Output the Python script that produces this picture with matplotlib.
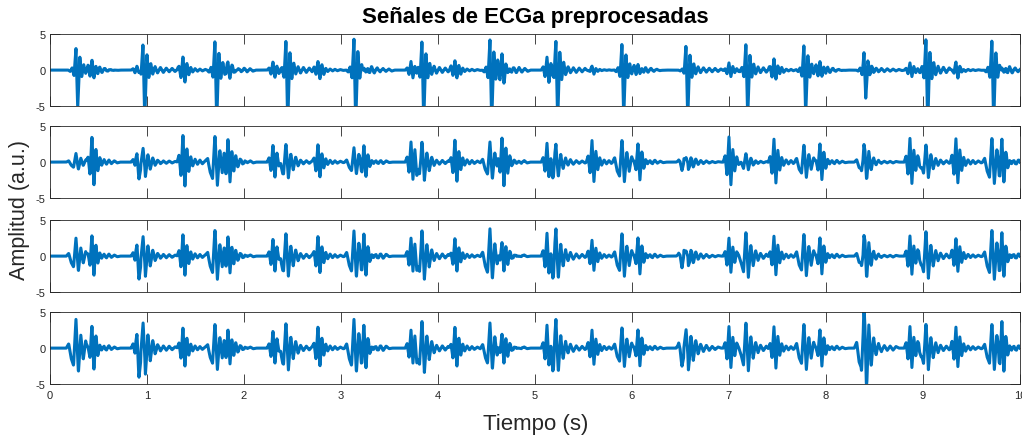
import numpy as np
import matplotlib
matplotlib.use("Agg")
import matplotlib.pyplot as plt

plt.rcParams["font.family"] = ["Liberation Sans", "DejaVu Sans"]
plt.rcParams["axes.unicode_minus"] = False

FS = 500          # samples per second
DURATION = 10.0   # s

# beat instants (s)
MAT_BEATS = [0.268, 0.959, 1.701, 2.433, 3.134, 3.835, 4.536, 5.216,
             5.897, 6.557, 7.175, 7.773, 8.392, 9.031, 9.711]
FET_BEATS = [0.433, 0.897, 1.371, 1.835, 2.299, 2.763, 3.237, 3.722,
             4.175, 4.660, 5.124, 5.588, 6.062, 6.536, 7.000, 7.464,
             7.938, 8.402, 8.866, 9.340, 9.814]

# peak amplitude of each beat, per channel (a.u.)
MAT_AMP_1 = [3.0, 4.0, 4.2, 4.2, 4.3, 4.2, 4.2, 4.0, 3.8, 4.0, 3.7, 3.6, 2.3, 4.5, 4.3]
FET_AMP_1 = [1.5, 0.8, 2.0, 1.0, 1.2, 1.5, 0.8, 1.2, 1.5, 1.8, 1.8,
             0.5, 0.8, 0.5, 1.0, 1.5, 1.2, 0.5, 1.0, 1.0, 0.8]
MAT_AMP_2 = [1.2, 2.5, 3.8, 2.5, 2.0, 3.0, 2.8, 2.5, 3.2, 1.5, 1.0, 2.5, 2.2, 2.5, 3.5]
FET_AMP_2 = [3.7, 1.5, 4.0, 3.7, 2.5, 2.5, 2.0, 2.8, 3.2, 3.8, 2.5,
             3.0, 2.5, 1.0, 3.5, 3.2, 2.5, 1.0, 3.3, 3.3, 2.5]
MAT_AMP_3 = [2.5, 3.5, 3.8, 3.2, 3.5, 3.8, 3.8, 3.8, 3.3, 2.0, 3.3, 3.2, 2.5, 3.6, 3.8]
FET_AMP_3 = [3.0, 2.0, 3.2, 3.2, 2.5, 2.8, 2.5, 2.5, 2.5, 2.5, 3.0,
             2.2, 2.5, 1.5, 2.5, 2.8, 2.5, 1.5, 2.8, 2.5, 2.5]
MAT_AMP_4 = [4.0, 4.5, 3.5, 3.5, 4.0, 4.0, 3.5, 4.0, 3.0, 4.0, 3.5, 3.5, 5.5, 3.5, 3.5]
FET_AMP_4 = [3.2, 2.5, 3.0, 3.0, 2.5, 3.0, 2.5, 2.5, 3.0, 2.5, 3.0,
             2.5, 2.5, 1.5, 3.0, 3.0, 2.5, 1.5, 3.0, 3.0, 3.0]

# complex shapes (offset from R peak in s, normalised value)
MAT1_T = [-0.080, -0.060, -0.040, -0.020, 0.0, 0.018, 0.040, 0.060, 0.080, 0.100,
          0.125, 0.150, 0.180, 0.210, 0.240, 0.270, 0.300, 0.330, 0.360, 0.390, 0.420]
MAT1_V = [0.0, -0.06, 0.1, -0.25, 1.0, -1.75, 0.6, -0.3, 0.25, -0.15,
          0.12, -0.1, 0.09, -0.08, 0.07, -0.06, 0.06, -0.05, 0.04, -0.03, 0.0]
MAT2_T = [-0.100, -0.075, -0.050, -0.025, 0.0, 0.025, 0.050, 0.075, 0.100,
          0.125, 0.150, 0.180, 0.210, 0.240, 0.270, 0.300, 0.330, 0.360]
MAT2_V = [0.0, 0.15, -0.35, -0.6, 1.0, -0.85, 0.45, -0.4, 0.25,
          -0.18, 0.12, -0.1, 0.08, -0.07, 0.06, -0.05, 0.04, 0.0]
FET_T = [-0.060, -0.040, -0.020, 0.0, 0.020, 0.040, 0.060, 0.080,
         0.100, 0.125, 0.150, 0.175, 0.200, 0.230, 0.260, 0.290]
FET_V = [0.0, 0.25, -0.5, 1.0, -0.9, 0.5, -0.35, 0.2,
         -0.14, 0.1, -0.08, 0.07, -0.06, 0.05, -0.03, 0.0]

CHANNELS = [(MAT1_T, MAT1_V, MAT_AMP_1, FET_AMP_1),
            (MAT2_T, MAT2_V, MAT_AMP_2, FET_AMP_2),
            (MAT2_T, MAT2_V, MAT_AMP_3, FET_AMP_3),
            (MAT2_T, MAT2_V, MAT_AMP_4, FET_AMP_4)]

t = np.arange(0, DURATION + 1 / FS, 1 / FS)


def build(mt, mv, mat_amp, fet_amp):
    y = np.zeros_like(t)
    for tb, a in zip(MAT_BEATS, mat_amp):
        y += a * np.interp(t - tb, mt, mv, left=0, right=0)
    for tb, a in zip(FET_BEATS, fet_amp):
        y += a * np.interp(t - tb, FET_T, FET_V, left=0, right=0)
    return y


BLUE = "#0072BD"
AX_COL = "#262626"
bottoms = [0.7563, 0.5467, 0.3326, 0.1230]
height = 0.1635

fig = plt.figure(figsize=(10.22, 4.39), dpi=100)
for i, (mt, mv, ma, fa) in enumerate(CHANNELS):
    ax = fig.add_axes([0.0489, bottoms[i], 0.9491, height])
    ax.plot(t, build(mt, mv, ma, fa), color=BLUE, lw=2.2)
    ax.set_xlim(0, 10)
    ax.set_ylim(-5, 5)
    ax.set_yticks([-5, 0, 5])
    ax.set_xticks(range(0, 11))
    ax.tick_params(direction="in", length=7, width=0.6, top=True, right=True,
                   labelsize=8, colors=AX_COL, pad=3)
    ax.tick_params(axis="x", pad=4)
    for s in ax.spines.values():
        s.set_color(AX_COL)
        s.set_linewidth(0.6)
    if i < 3:
        ax.set_xticklabels([])

fig.text(0.5235, 0.959, "Señales de ECGa preprocesadas", ha="center",
         va="center", fontsize=16, fontweight="bold", color="black")
fig.text(0.0186, 0.5216, "Amplitud (a.u.)", ha="center", va="center",
         rotation=90, fontsize=15.5, color=AX_COL)
fig.text(0.5245, 0.032, "Tiempo (s)", ha="center", va="center",
         fontsize=16, color=AX_COL)

fig.savefig("out.png", dpi=100)
